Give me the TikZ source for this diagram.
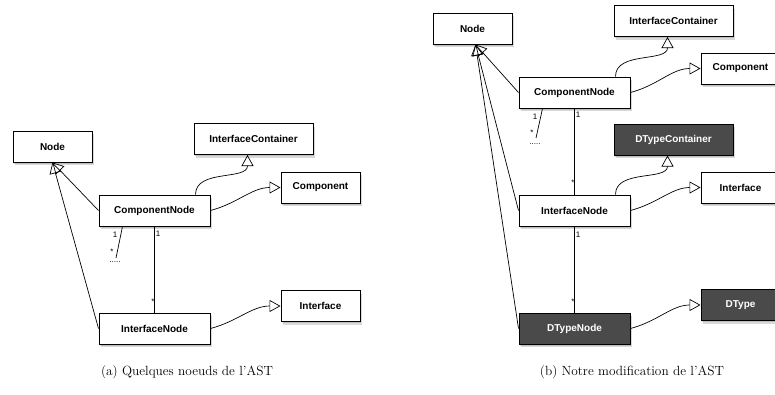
\documentclass[tikz,border=0pt]{standalone}
\usepackage{fontspec}
\newfontfamily\umlfont{Liberation Sans}
\usetikzlibrary{arrows.meta,shadows}
\definecolor{boxgray}{HTML}{4A4A4A}
\tikzset{
  box/.style={draw, line width=1pt, fill=white, inner sep=0pt, minimum height=31pt,
    font=\umlfont\bfseries\fontsize{10}{12}\selectfont,
    drop shadow={shadow xshift=1.5pt, shadow yshift=-3pt, opacity=0.3},
    drop shadow={shadow xshift=1pt, shadow yshift=-1.5pt, opacity=0.3}},
  shortbox/.style={box, minimum width=79pt},
  longbox/.style={box, minimum width=111pt},
  widebox/.style={box, minimum width=119pt},
  darkbox/.style={fill=boxgray, text=white},
  gen/.style={-{Triangle[open, length=11pt, width=12pt]}, line width=0.7pt},
  assoc/.style={line width=0.7pt},
  mult/.style={font=\umlfont\fontsize{8}{9}\selectfont, inner sep=0pt},
  subcap/.style={font=\fontsize{13.3}{16}\selectfont, inner sep=0pt}
}
\begin{document}
\begin{tikzpicture}[x=1pt,y=1pt,yscale=-1]
  \useasboundingbox (0,0) rectangle (775,394);

  %% (a) left diagram
  %Shape: Rectangle
  \node [shortbox] (nodeA) at (52.5,146.5) {Node};
  \node [widebox] (icA) at (253.5,139) {InterfaceContainer};
  \node [shortbox] (compA) at (320.5,187.5) {Component};
  \node [longbox] (cnA) at (154.5,210.5) {ComponentNode};
  \node [shortbox] (intfA) at (320.5,306) {Interface};
  \node [longbox] (inA) at (154.5,328.5) {InterfaceNode};

  %Straight Lines
  \draw [gen] (cnA.west) -- (nodeA.south);
  \draw [gen] (inA.west) -- (nodeA.south);
  \draw [assoc] (cnA) -- (inA);
  \coordinate (stubA) at (116,258);
  \draw [assoc] ([xshift=24pt]cnA.south west) -- (stubA);
  %Curve Lines
  \draw [gen] ([xshift=-15pt]cnA.north east) to[out=-90,in=90] ([xshift=-6pt]icA.south);
  \draw [gen] (cnA.east) to[out=-15,in=180] (compA.west);
  \draw [gen] (inA.east) to[out=-15,in=180] (intfA.west);

  % Text Node
  \node [mult] (m1A) at (115,235) {1};
  \node [mult] (m2A) at (112,252) {*};
  \node [mult] (m3A) at (115,262) {.....};
  \node [mult] (m4A) at (158,234) {1};
  \node [mult] (m5A) at (153,302) {*};

  %% (b) right diagram
  %Shape: Rectangle
  \node [shortbox] (nodeB) at (472.5,28.5) {Node};
  \node [widebox] (icB) at (673.5,21) {InterfaceContainer};
  \node [shortbox] (compB) at (740.5,68.5) {Component};
  \node [longbox] (cnB) at (574.5,92.5) {ComponentNode};
  \node [widebox, darkbox] (dtcB) at (673.5,139.5) {DTypeContainer};
  \node [shortbox] (intfB) at (740.5,187.5) {Interface};
  \node [longbox] (inB) at (574.5,210.5) {InterfaceNode};
  \node [shortbox, darkbox] (dtB) at (740.5,305) {DType};
  \node [longbox, darkbox] (dtnB) at (574.5,328.5) {DTypeNode};

  %Straight Lines
  \draw [gen] (cnB.west) -- ([xshift=3pt]nodeB.south);
  \draw [gen] (inB.west) -- ([xshift=3pt]nodeB.south);
  \draw [gen] (dtnB.west) -- ([xshift=3pt]nodeB.south);
  \draw [assoc] (cnB) -- (inB);
  \draw [assoc] (inB) -- (dtnB);
  \coordinate (stubB) at (536,138);
  \draw [assoc] ([xshift=24pt]cnB.south west) -- (stubB);
  %Curve Lines
  \draw [gen] ([xshift=-15pt]cnB.north east) to[out=-90,in=90] ([xshift=-6pt]icB.south);
  \draw [gen] (cnB.east) to[out=-15,in=180] (compB.west);
  \draw [gen] ([xshift=-15pt]inB.north east) to[out=-90,in=90] ([xshift=-6pt]dtcB.south);
  \draw [gen] (inB.east) to[out=-15,in=180] (intfB.west);
  \draw [gen] (dtnB.east) to[out=-15,in=180] (dtB.west);

  % Text Node
  \node [mult] (m1B) at (535,117) {1};
  \node [mult] (m2B) at (532,133) {*};
  \node [mult] (m3B) at (535,144) {.....};
  \node [mult] (m4B) at (578,115) {1};
  \node [mult] (m5B) at (573,183) {*};
  \node [mult] (m6B) at (578,235) {1};
  \node [mult] (m7B) at (573,302) {*};

  %% captions
  \node [subcap] (capA) at (187,372) {(a) Quelques noeuds de l'AST};
  \node [subcap] (capB) at (632,372) {(b) Notre modification de l'AST};
\end{tikzpicture}
\end{document}
